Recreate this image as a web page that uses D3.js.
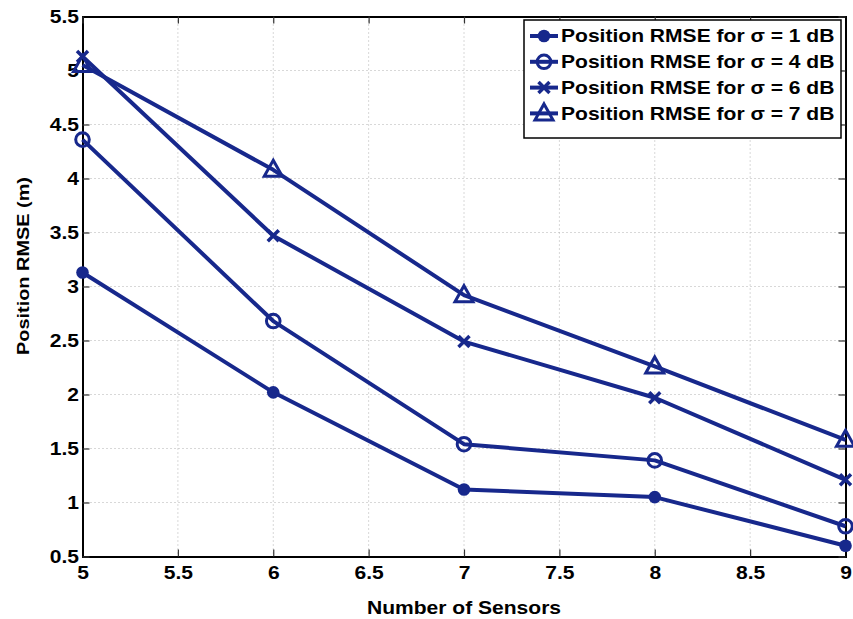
<!DOCTYPE html>
<html>
<head>
<meta charset="utf-8">
<script src="https://cdn.jsdelivr.net/npm/d3@7"></script>
<style>
  body { margin: 0; background: #fff; }
  text { font-family: "Liberation Sans", Arial, sans-serif; font-weight: bold; }
</style>
</head>
<body>
<svg id="chart" width="853" height="619"></svg>
<script>
// Number of sensors on the x axis
const sensors = [5, 6, 7, 8, 9];

// Position RMSE (m) for each shadowing level
const rmseSigma1 = [3.13, 2.02, 1.12, 1.05, 0.60];
const rmseSigma4 = [4.36, 2.68, 1.54, 1.39, 0.78];
const rmseSigma6 = [5.13, 3.47, 2.49, 1.97, 1.21];
const rmseSigma7 = [5.05, 4.08, 2.92, 2.26, 1.58];

const seriesNames = [
  "Position RMSE for σ = 1 dB",
  "Position RMSE for σ = 4 dB",
  "Position RMSE for σ = 6 dB",
  "Position RMSE for σ = 7 dB"
];
const markerKinds = ["dot", "circle", "cross", "triangle"];

const xTicks = [5, 5.5, 6, 6.5, 7, 7.5, 8, 8.5, 9];
const yTicks = [0.5, 1, 1.5, 2, 2.5, 3, 3.5, 4, 4.5, 5, 5.5];

const color = "#17288c";
const stretch = 1.17; // wide bold face
const margin = { left: 82.5, right: 845.5, top: 16.5, bottom: 556.5 };

const svg = d3.select("#chart");
const x = d3.scaleLinear().domain([5, 9]).range([margin.left, margin.right]);
const y = d3.scaleLinear().domain([0.5, 5.5]).range([margin.bottom, margin.top]);

// Dotted grid
const grid = svg.append("g");
grid.selectAll("line.gx").data(xTicks.slice(1, -1)).join("line")
  .attr("x1", d => x(d)).attr("x2", d => x(d))
  .attr("y1", margin.top).attr("y2", margin.bottom)
  .attr("stroke", "#b0b0b0").attr("stroke-width", 1).attr("stroke-dasharray", "1,3");
grid.selectAll("line.gy").data(yTicks.slice(1, -1)).join("line")
  .attr("y1", d => y(d)).attr("y2", d => y(d))
  .attr("x1", margin.left).attr("x2", margin.right)
  .attr("stroke", "#b0b0b0").attr("stroke-width", 1).attr("stroke-dasharray", "1,3");

// Axes with inward ticks
const tickLen = 7;
const xAxis = svg.append("g").attr("transform", `translate(0,${margin.bottom})`)
  .call(d3.axisBottom(x).tickValues(xTicks).tickSize(-tickLen).tickPadding(10).tickFormat(d3.format("")));
const yAxis = svg.append("g").attr("transform", `translate(${margin.left},0)`)
  .call(d3.axisLeft(y).tickValues(yTicks).tickSize(-tickLen).tickPadding(3).tickFormat(d3.format("")));
const xTop = svg.append("g").attr("transform", `translate(0,${margin.top})`)
  .call(d3.axisTop(x).tickValues(xTicks).tickSize(-tickLen).tickFormat(""));
const yRight = svg.append("g").attr("transform", `translate(${margin.right},0)`)
  .call(d3.axisRight(y).tickValues(yTicks).tickSize(-tickLen).tickFormat(""));
[xAxis, yAxis, xTop, yRight].forEach(g => {
  g.select(".domain").attr("stroke", "#000").attr("stroke-width", 2);
  g.selectAll(".tick line").attr("stroke", "#333").attr("stroke-width", 1.2);
  g.selectAll(".tick text").attr("fill", "#000").style("font-size", "18px").style("font-weight", "bold")
    .attr("transform", `scale(${stretch},1)`);
});
xAxis.selectAll(".tick text").attr("dy", "0.72em");

// Axis titles
svg.append("text").attr("transform", `translate(${(margin.left + margin.right) / 2},614) scale(${stretch},1)`)
  .attr("text-anchor", "middle").style("font-size", "18px").text("Number of Sensors");
svg.append("text").attr("transform", `translate(29,266) rotate(-90) scale(${stretch},1)`)
  .attr("text-anchor", "middle").style("font-size", "17px").text("Position RMSE (m)");

// Marker drawing
function drawMarker(g, kind) {
  if (kind === "dot") {
    g.append("circle").attr("r", 6.3).attr("fill", color);
  } else if (kind === "circle") {
    g.append("circle").attr("r", 6.8).attr("fill", "none").attr("stroke", color).attr("stroke-width", 3);
  } else if (kind === "cross") {
    g.append("path").attr("d", "M-5.5,-5.5L5.5,5.5M-5.5,5.5L5.5,-5.5").attr("stroke", color).attr("stroke-width", 3.5).attr("fill", "none");
  } else {
    g.append("path").attr("d", "M0,-9.5L9,6.5L-9,6.5Z").attr("fill", "none").attr("stroke", color).attr("stroke-width", 3).attr("stroke-linejoin", "miter");
  }
}

const allSeries = [rmseSigma1, rmseSigma4, rmseSigma6, rmseSigma7];
const line = d3.line().x((d, i) => x(sensors[i])).y(d => y(d));
allSeries.forEach((vals, k) => {
  svg.append("path").datum(vals).attr("d", line)
    .attr("fill", "none").attr("stroke", color).attr("stroke-width", 4).attr("stroke-linejoin", "round");
  vals.forEach((v, i) => {
    const g = svg.append("g").attr("transform", `translate(${x(sensors[i])},${y(v)})`);
    drawMarker(g, markerKinds[k]);
  });
});

// Legend
const legend = svg.append("g");
legend.append("rect").attr("x", 524).attr("y", 20).attr("width", 317).attr("height", 118)
  .attr("fill", "#fff").attr("stroke", "#000").attr("stroke-width", 1.5);
seriesNames.forEach((name, k) => {
  const ly = 36 + k * 25.8;
  legend.append("line").attr("x1", 530).attr("x2", 558).attr("y1", ly).attr("y2", ly)
    .attr("stroke", color).attr("stroke-width", 4);
  const g = legend.append("g").attr("transform", `translate(544,${ly})`);
  drawMarker(g, markerKinds[k]);
  legend.append("text").attr("transform", `translate(561,${ly}) scale(${stretch},1)`).attr("dy", "0.36em")
    .style("font-size", "18px").attr("fill", "#000").text(name);
});
</script>
</body>
</html>
